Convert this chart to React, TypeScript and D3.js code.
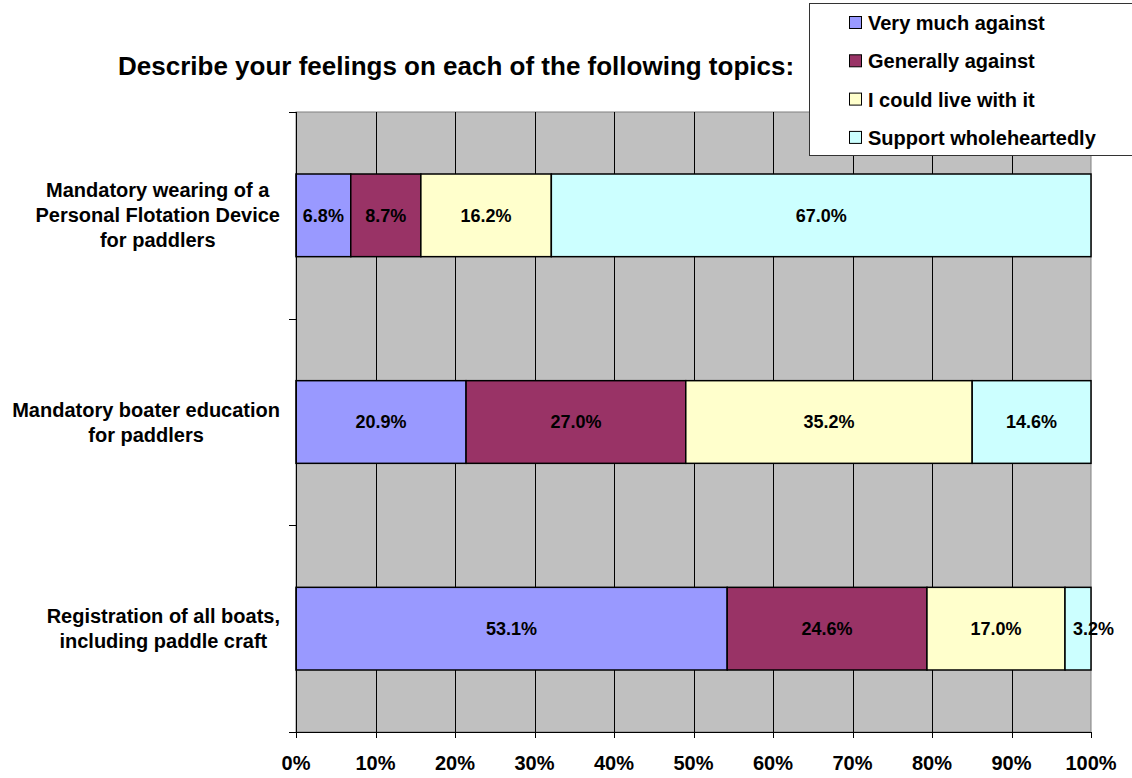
import React, { useEffect, useRef } from 'react';
import * as d3 from 'd3';

const topics = [
  ['Mandatory wearing of a', 'Personal Flotation Device', 'for paddlers'],
  ['Mandatory boater education', 'for paddlers'],
  ['Registration of all boats,', 'including paddle craft'],
];
const responses = ['Very much against', 'Generally against', 'I could live with it', 'Support wholeheartedly'];
const colors = ['#9999FF', '#993366', '#FFFFCC', '#CCFFFF'];

// percent of answers per topic, in the order of responses
const veryMuchAgainst = [6.8, 20.9, 53.1];
const generallyAgainst = [8.7, 27.0, 24.6];
const couldLiveWithIt = [16.2, 35.2, 17.0];
const supportWholeheartedly = [67.0, 14.6, 3.2];

const xTicks = [0, 0.1, 0.2, 0.3, 0.4, 0.5, 0.6, 0.7, 0.8, 0.9, 1];

const FONT = '"Liberation Sans", Arial, Helvetica, sans-serif';

const App = () => {
  const svgRef = useRef<SVGSVGElement | null>(null);

  useEffect(() => {
    if (!svgRef.current) return;
    document.body.style.margin = '0';

    const svg = d3.select(svgRef.current);
    svg.selectAll('*').remove();

    const left = 296, right = 1091, top = 112, bottom = 732;

    const rows = topics.map((t, i) => ({
      key: String(i),
      lines: t,
      [responses[0]]: veryMuchAgainst[i],
      [responses[1]]: generallyAgainst[i],
      [responses[2]]: couldLiveWithIt[i],
      [responses[3]]: supportWholeheartedly[i],
    })) as any[];

    const x = d3.scaleLinear().domain([0, 1]).range([left, right]);
    const y = d3.scaleBand<string>()
      .domain(rows.map(r => r.key))
      .range([top, bottom])
      .paddingInner(0.6)
      .paddingOuter(0.3);

    const stacked = d3.stack<any>()
      .keys(responses)
      .offset(d3.stackOffsetExpand)(rows);

    // plot background
    svg.append('rect')
      .attr('x', left).attr('y', top)
      .attr('width', right - left).attr('height', bottom - top)
      .attr('fill', '#C0C0C0')
      .attr('stroke', '#808080')
      .attr('stroke-width', 1);

    // vertical gridlines
    svg.append('g')
      .selectAll('line')
      .data(xTicks.slice(1, -1))
      .join('line')
      .attr('x1', d => Math.round(x(d)) + 0.5)
      .attr('x2', d => Math.round(x(d)) + 0.5)
      .attr('y1', top).attr('y2', bottom)
      .attr('stroke', '#000').attr('stroke-width', 1);

    // bars
    const layers = svg.append('g')
      .selectAll('g')
      .data(stacked)
      .join('g')
      .attr('fill', (_, i) => colors[i]);

    layers.selectAll('rect')
      .data(d => d)
      .join('rect')
      .attr('x', d => x(d[0]))
      .attr('y', d => y(d.data.key)!)
      .attr('width', d => x(d[1]) - x(d[0]))
      .attr('height', y.bandwidth())
      .attr('stroke', '#000')
      .attr('stroke-width', 1.5);

    // data labels
    const labelG = svg.append('g')
      .style('font-family', FONT)
      .style('font-weight', 'bold')
      .style('font-size', '18px')
      .attr('fill', '#000');

    stacked.forEach((layer, li) => {
      layer.forEach(d => {
        const x0 = x(d[0]), x1 = x(d[1]);
        const t = labelG.append('text')
          .attr('y', y(d.data.key)! + y.bandwidth() / 2)
          .attr('dy', '0.35em')
          .text(`${(d.data[responses[li]] as number).toFixed(1)}%`);
        const w = (t.node() as SVGTextElement).getComputedTextLength();
        if (w + 6 > x1 - x0) {
          t.attr('x', x0 + 8).attr('text-anchor', 'start');
        } else {
          t.attr('x', (x0 + x1) / 2).attr('text-anchor', 'middle');
        }
      });
    });

    // y axis
    const yAxis = svg.append('g').attr('stroke', '#000');
    yAxis.append('line')
      .attr('x1', left + 0.5).attr('x2', left + 0.5)
      .attr('y1', top).attr('y2', bottom)
      .attr('stroke-width', 1);
    const yBounds = [top, ...rows.slice(1).map(r => y(r.key)! - (y.step() - y.bandwidth()) / 2), bottom];
    yAxis.selectAll('line.tick')
      .data(yBounds)
      .join('line')
      .attr('class', 'tick')
      .attr('x1', left - 7).attr('x2', left)
      .attr('y1', d => Math.round(d) + 0.5).attr('y2', d => Math.round(d) + 0.5);

    // x axis
    const xAxis = svg.append('g');
    xAxis.append('line')
      .attr('x1', left - 7).attr('x2', right)
      .attr('y1', bottom + 0.5).attr('y2', bottom + 0.5)
      .attr('stroke', '#000');
    xAxis.selectAll('line.tick')
      .data(xTicks)
      .join('line')
      .attr('class', 'tick')
      .attr('x1', d => Math.round(x(d)) + 0.5).attr('x2', d => Math.round(x(d)) + 0.5)
      .attr('y1', bottom).attr('y2', bottom + 6)
      .attr('stroke', '#000');
    xAxis.selectAll('text')
      .data(xTicks)
      .join('text')
      .attr('x', d => x(d))
      .attr('y', 763)
      .attr('dy', '0.35em')
      .attr('text-anchor', 'middle')
      .style('font-family', FONT)
      .style('font-weight', 'bold')
      .style('font-size', '20px')
      .text(d => d3.format('.0%')(d));

    // category labels: centred block, right edge at 280
    const catG = svg.append('g')
      .style('font-family', FONT)
      .style('font-weight', 'bold')
      .style('font-size', '20px');
    rows.forEach(r => {
      const lines: string[] = r.lines;
      const cy = y(r.key)! + y.bandwidth() / 2;
      const lh = 25;
      const texts = lines.map((ln, i) => catG.append('text')
        .attr('y', cy + (i - (lines.length - 1) / 2) * lh)
        .attr('dy', '0.35em')
        .attr('text-anchor', 'middle')
        .text(ln));
      const maxW = d3.max(texts, t => (t.node() as SVGTextElement).getComputedTextLength()) || 0;
      texts.forEach(t => t.attr('x', 280 - maxW / 2));
    });

    // title
    svg.append('text')
      .attr('x', 118)
      .attr('y', 66)
      .attr('dy', '0.35em')
      .style('font-family', FONT)
      .style('font-weight', 'bold')
      .style('font-size', '26px')
      .text('Describe your feelings on each of the following topics:');

    // legend
    const legend = svg.append('g');
    legend.append('rect')
      .attr('x', 809.5).attr('y', 3.5)
      .attr('width', 340).attr('height', 152)
      .attr('fill', '#fff')
      .attr('stroke', '#333').attr('stroke-width', 1);
    const items = legend.selectAll('g.item')
      .data(responses)
      .join('g')
      .attr('class', 'item')
      .attr('transform', (_, i) => `translate(849, ${23 + i * 38.3})`);
    items.append('rect')
      .attr('x', 0.5).attr('y', -6.5)
      .attr('width', 12).attr('height', 12)
      .attr('fill', (_, i) => colors[i])
      .attr('stroke', '#000').attr('stroke-width', 1);
    items.append('text')
      .attr('x', 19)
      .attr('dy', '0.35em')
      .style('font-family', FONT)
      .style('font-weight', 'bold')
      .style('font-size', '20px')
      .text(d => d);
  }, []);

  return (
    <svg ref={svgRef} width={1132} height={778} style={{ display: 'block', background: '#fff' }} />
  );
};

export default App;
